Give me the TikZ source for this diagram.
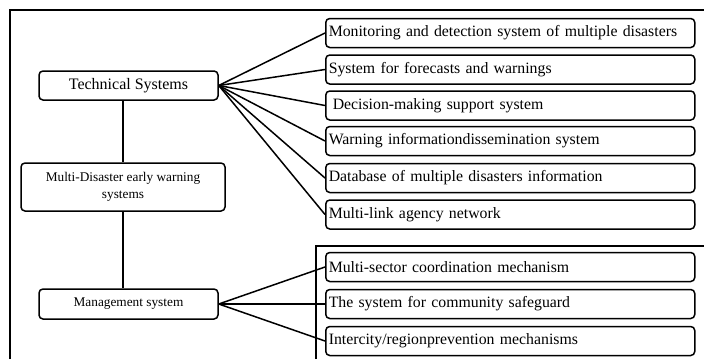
\documentclass[tikz,border=0pt]{standalone}
\usepackage{fontspec}
\setmainfont{Liberation Serif}
\begin{document}
\begin{tikzpicture}[x=1pt,y=-1pt,
  box/.style={draw, line width=1.5pt, rounded corners=4pt, inner sep=0pt},
  item/.style={box, minimum height=29pt, text width=363pt, inner xsep=3pt, align=left,
    font=\fontsize{15.8}{18}\selectfont, anchor=west},
  link/.style={line width=1.5pt},
  framel/.style={line width=1.5pt}]
\useasboundingbox (0,0) rectangle (704,359);
% frames
\draw[framel] (10,359) -- (10,10) -- (704,10);
\draw[framel] (316,359) -- (316,246) -- (704,246);
% left nodes
\node[box, minimum width=179pt, minimum height=29pt, font=\fontsize{16}{19}\selectfont] (tech) at (128.5,85.5) {Technical Systems};
\node[box, minimum width=204pt, minimum height=48pt, align=center, font=\fontsize{13.3}{17}\selectfont] (mdews) at (123,187) {Multi-Disaster early warning\\systems};
\node[box, minimum width=179pt, minimum height=30pt, font=\fontsize{13.3}{16}\selectfont] (mgmt) at (128.5,304) {Management system};
% right nodes
\node[item] (t1) at (325,33) {Monitoring and detection system of multiple disasters};
\node[item] (t2) at (325,69.5) {System for forecasts and warnings};
\node[item] (t3) at (325,105.5) {\hspace{4pt}Decision-making support system};
\node[item] (t4) at (325,141) {Warning informationdissemination system};
\node[item] (t5) at (325,178) {Database of multiple disasters information};
\node[item] (t6) at (325,214.5) {Multi-link agency network};
\node[item] (m1) at (325,267) {Multi-sector coordination mechanism};
\node[item] (m2) at (325,304) {The system for community safeguard};
\node[item] (m3) at (325,341) {Intercity/regionprevention mechanisms};
% connectors
\draw[link] (tech.south -| mdews.north) -- (mdews.north);
\draw[link] (mdews.south) -- (mgmt.north -| mdews.south);
\foreach \n in {t1,t2,t3,t4,t5,t6} \draw[link] (tech.east) -- (\n.west);
\foreach \n in {m1,m2,m3} \draw[link] (mgmt.east) -- (\n.west);
\end{tikzpicture}
\end{document}
